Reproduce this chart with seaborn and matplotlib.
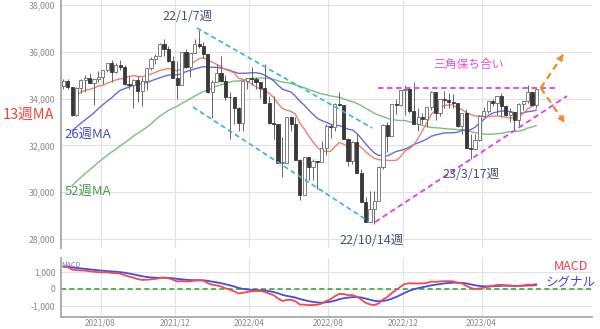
import numpy as np
import pandas as pd
import matplotlib
matplotlib.use("Agg")
import matplotlib.pyplot as plt
import seaborn as sns
from matplotlib.ticker import FuncFormatter

# ---------------- data ----------------
# weekly closes before the visible window (for moving averages / MACD warm-up), Jun 2020 - May 2021
prior_close = [27111, 25605, 25871, 25016, 25827, 26075, 26672, 26470, 26428, 27433,
               27931, 27930, 28654, 28133, 27666, 27657, 27174, 27683, 28587, 28606,
               28336, 26502, 28323, 29480, 29263, 29910, 30218, 30046, 30179, 30200,
               30606, 31098, 30814, 30997, 29983, 31148, 31458, 31494, 30932, 31496,
               32779, 32628, 33072, 33153, 33801, 34200, 34043, 33875, 34778, 34382,
               34208, 34529]

first_week = "2021-06-04"

opens = [34530, 34756, 34480, 33290, 34433, 34786, 34870, 34687, 34823, 34935,
         35209, 35515, 35120, 35455, 35369, 34607, 34584, 34798, 34326, 34746,
         35295, 35677, 35820, 36328, 36100, 35602, 34899, 34580, 35971, 35365,
         35950, 36338, 36231, 35912, 34265, 34725, 35089, 34738, 34079, 34059,
         33615, 32944, 34755, 34861, 34818, 34721, 34451, 33811, 32977, 32899,
         31262, 31262, 33213, 32900, 31393, 29888, 31501, 31097, 31338, 31289,
         31899, 32845, 32803, 33761, 33707, 32283, 31318, 32152, 30822, 29590,
         28726, 29297, 29635, 31083, 32862, 32403, 33749, 33746, 34347, 34430,
         33477, 32920, 33204, 33147, 33631, 34303, 33375, 33978, 33926, 33869,
         33827, 32817, 33391, 31910, 31862, 32238, 33274, 33485, 33886, 33809,
         34098, 33674, 33301, 33427, 33093, 33762, 33877, 34299, 33727]
highs = [34850, 34850, 34500, 34500, 34830, 35000, 35090, 34850, 35170, 35240,
         35530, 35630, 35510, 35630, 35450, 34980, 34850, 34970, 34920, 35320,
         35760, 35890, 36360, 36565, 36230, 35800, 35600, 35980, 36100, 35970,
         36530, 36952, 36400, 35920, 34800, 35500, 35820, 35000, 34300, 34060,
         33640, 34800, 34900, 35370, 34920, 34730, 35490, 34100, 34120, 32900,
         32380, 33220, 33250, 33200, 31400, 31520, 31510, 31400, 31350, 32200,
         32900, 32900, 33800, 34280, 33710, 32300, 32200, 32500, 31000, 29800,
         30040, 30050, 31100, 32900, 33000, 33760, 33980, 34350, 34600, 34430,
         34710, 33600, 33400, 33650, 34340, 34300, 33980, 34340, 34250, 34200,
         33830, 33400, 33570, 32500, 32480, 33280, 33640, 33900, 34000, 34100,
         34250, 33730, 33600, 33440, 33800, 33900, 34590, 34300, 34450]
lows = [34390, 34390, 33270, 33270, 34250, 34300, 34650, 33740, 34730, 34630,
        35150, 34690, 35100, 35240, 34600, 34400, 33610, 33840, 33690, 34350,
        35220, 35500, 35800, 35800, 35580, 34880, 34000, 34560, 35300, 34920,
        35940, 36150, 35730, 34260, 33150, 34700, 34700, 33960, 32270, 32900,
        32630, 32600, 34400, 34600, 34400, 34040, 33800, 32900, 32270, 31230,
        30640, 31260, 32600, 31390, 29650, 29880, 30500, 30500, 30140, 31280,
        31600, 32300, 32600, 33700, 32280, 31100, 31200, 30800, 29570, 28720,
        28720, 28660, 29630, 31000, 31700, 32400, 33350, 33700, 33300, 33400,
        32900, 32600, 32900, 32800, 33500, 33100, 33250, 33600, 33600, 33600,
        32800, 32500, 31900, 31430, 31800, 32200, 33200, 33400, 33700, 33300,
        33230, 33250, 33000, 32600, 32850, 33500, 33800, 33700, 33600]
closes = [34756, 34480, 33290, 34433, 34786, 34870, 34687, 34823, 34935, 35209,
          35515, 35120, 35455, 35369, 34607, 34584, 34798, 34326, 34746, 35295,
          35677, 35820, 36328, 36100, 35602, 34899, 34580, 35971, 35365, 35950,
          36338, 36231, 35912, 34265, 34725, 35089, 34738, 34079, 34059, 33615,
          32944, 34755, 34861, 34818, 34721, 34451, 33811, 32977, 32899, 31262,
          31262, 33213, 32900, 31393, 29888, 31501, 31097, 31338, 31289, 31899,
          32845, 32803, 33761, 33707, 32283, 31318, 32152, 30822, 29590, 28726,
          29297, 29635, 31083, 32862, 32403, 33749, 33746, 34347, 34430, 33477,
          32920, 33204, 33147, 33631, 34303, 33375, 33978, 33926, 33869, 33827,
          32817, 33391, 31910, 31862, 32238, 33274, 33485, 33886, 33809, 34098,
          33674, 33301, 33427, 33093, 33762, 33877, 34299, 33727, 34408]

month_labels = ["2021/08", "2021/12", "2022/04", "2022/08", "2022/12", "2023/04"]
price_ticks = [28000, 30000, 32000, 34000, 36000, 38000]
macd_ticks = [-1000, 0, 1000]

# ---------------- derived series ----------------
n_prior = len(prior_close)
full = pd.Series(prior_close + closes, dtype=float)
ma13 = full.rolling(13).mean().iloc[n_prior:].to_numpy()
ma26 = full.rolling(26).mean().iloc[n_prior:].to_numpy()
ma52 = full.rolling(52).mean().iloc[n_prior:].to_numpy()
ema12 = full.ewm(span=12, adjust=False).mean()
ema26 = full.ewm(span=26, adjust=False).mean()
macd_full = ema12 - ema26
signal_full = macd_full.ewm(span=9, adjust=False).mean()

n = len(closes)
dates = pd.date_range(first_week, periods=n, freq="7D")
df = pd.DataFrame({
    "x": np.arange(n), "open": opens, "high": highs, "low": lows, "close": closes,
    "ma13": ma13, "ma26": ma26, "ma52": ma52,
    "macd": macd_full.iloc[n_prior:].to_numpy(),
    "signal": signal_full.iloc[n_prior:].to_numpy(),
})

tick_pos = []
for lab in month_labels:
    y, m = map(int, lab.split("/"))
    i = int(np.where((dates.year == y) & (dates.month == m))[0][0])
    tick_pos.append(i - 0.5)

# ---------------- style ----------------
sns.set_theme(style="white")
plt.rcParams["font.family"] = ["Noto Sans CJK JP", "DejaVu Sans"]

W, H = 600, 329
fig = plt.figure(figsize=(W / 100, H / 100), dpi=100)
ax = fig.add_axes([61 / W, 1 - 248 / H, 531 / W, 248 / H])
ax2 = fig.add_axes([61 / W, 12 / H, 531 / W, 59 / H])

grid_c = "#e2e2e2"
for a in (ax, ax2):
    for s in a.spines.values():
        s.set_visible(False)
    a.spines["left"].set_visible(True)
    a.spines["left"].set_color("#a8a8a8")
    a.spines["left"].set_linewidth(1.3)
    a.set_xticks(tick_pos)
    a.grid(True, color=grid_c, lw=0.8)
    a.tick_params(axis="both", length=0, labelsize=6.3, labelcolor="#8a8a8a", pad=4)
    a.set_xlim(-0.53, 120.7)
ax2.tick_params(axis="x", pad=1.2, labelsize=6.0)
ax2.spines["bottom"].set_visible(True)
ax2.spines["bottom"].set_color("#a8a8a8")
ax2.spines["bottom"].set_linewidth(1.3)

# ---------------- candles ----------------
up = df["close"] >= df["open"]
ax.vlines(df["x"], df["low"], df["high"], color="#666666", lw=0.7, zorder=3)
body_h = np.maximum((df["close"] - df["open"]).abs(), 20)
body_b = np.minimum(df["open"], df["close"])
ax.bar(df["x"][up], body_h[up], bottom=body_b[up], width=0.72, color="white",
       edgecolor="#6a6a6a", linewidth=0.6, zorder=4)
ax.bar(df["x"][~up], body_h[~up], bottom=body_b[~up], width=0.72, color="#383838",
       edgecolor="#383838", linewidth=0.6, zorder=4)

# ---------------- moving averages ----------------
sub = df.iloc[2:]
sns.lineplot(data=sub, x="x", y="ma52", ax=ax, color="#7cbf7c", lw=1.0, zorder=2)
sns.lineplot(data=sub, x="x", y="ma26", ax=ax, color="#6a6ad8", lw=1.0, zorder=2)
sns.lineplot(data=sub, x="x", y="ma13", ax=ax, color="#f08070", lw=1.0, zorder=2)

ax.set_ylim(27615, 38214)
ax.set_yticks(price_ticks)
ax.yaxis.set_major_formatter(FuncFormatter(lambda v, p: f"{v:,.0f}"))
ax.set_xticklabels([])
ax.set_xlabel("")
ax.set_ylabel("")

# ---------------- annotation lines ----------------
cy = "#38b4d8"
ax.plot([30.5, 70.5], [37017, 32744], ls=(0, (3, 2)), color=cy, lw=1.2, zorder=5)
ax.plot([29.6, 69.6], [33641, 28769], ls=(0, (3, 2)), color=cy, lw=1.2, zorder=5)
mg = "#e040e0"
ax.plot([71.8, 112.7], [34453, 34453], ls=(0, (3, 2)), color=mg, lw=1.3, zorder=5)
ax.plot([71.2, 115.0], [28726, 34111], ls=(0, (3, 2)), color=mg, lw=1.3, zorder=5)
og = "#f08a2a"
for end in [(114.5, 35991), (114.8, 32872)]:
    start = (109.0, 34453)
    ax.plot([start[0], end[0]], [start[1], end[1]], ls=(0, (3, 2)), color=og, lw=1.6, zorder=6)
    back = (end[0] - (end[0] - start[0]) * 0.2, end[1] - (end[1] - start[1]) * 0.2)
    ax.annotate("", xy=end, xytext=back,
                arrowprops=dict(arrowstyle="-|>", color=og, lw=0.1, mutation_scale=13),
                zorder=6)

# ---------------- MACD panel ----------------
sns.lineplot(data=df, x="x", y="signal", ax=ax2, color="#4a4ae0", lw=1.3, zorder=3)
sns.lineplot(data=df, x="x", y="macd", ax=ax2, color="#ee4a55", lw=1.3, zorder=3)
ax2.axhline(0, color="#3aa83a", lw=1.2, ls=(0, (3, 2)), zorder=2)
ax2.set_ylim(-1650, 1800)
ax2.set_yticks(macd_ticks)
ax2.yaxis.set_major_formatter(FuncFormatter(lambda v, p: f"{v:,.0f}"))
ax2.set_xticklabels(month_labels)
ax2.set_xlabel("")
ax2.set_ylabel("")

# ---------------- texts ----------------
def ftext(x, y, s, color, size, **kw):
    fig.text(x / W, 1 - y / H, s, color=color, fontsize=size, ha="center", va="center", **kw)

navy = "#46536f"
ftext(29, 115, "13週MA", "#e8483c", 10.5)
ftext(88, 134, "26週MA", "#4848c8", 9.5)
ftext(88, 191, "52週MA", "#4a9a4a", 9.5)
ftext(188, 17, "22/1/7週", navy, 9)
ftext(372, 241, "22/10/14週", navy, 9)
ftext(471, 174, "23/3/17週", navy, 9)
ftext(469, 64, "三角保ち合い", "#e050e0", 8.5)
ftext(71, 265, "MACD", "#6a78a8", 5)
ftext(571, 267, "MACD", "#e8404c", 9)
ftext(571, 283, "シグナル", "#4646d8", 9)

fig.savefig("out.png", dpi=100)
